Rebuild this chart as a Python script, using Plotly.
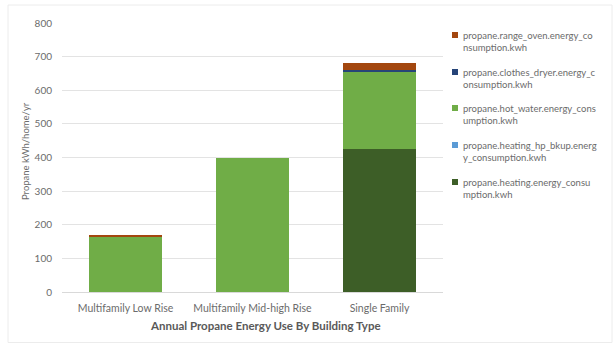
import plotly.graph_objects as go

# Building types on the x axis
categories = ["Multifamily Low Rise", "Multifamily Mid-high Rise", "Single Family"]

# Annual propane end-use (kWh/home/yr), stacked bottom to top
heating = [0, 0, 424]
heating_hp_bkup = [0, 0, 0]
hot_water = [165, 398, 233]
clothes_dryer = [0, 0, 3]
range_oven = [6, 0, 20]

y_ticks = [0, 100, 200, 300, 400, 500, 600, 700, 800]

# (series name, values, colour, character position where the legend label wraps)
series = [
    ("propane.heating.energy_consumption.kwh", heating, "#3d5e27", 28),
    ("propane.heating_hp_bkup.energy_consumption.kwh", heating_hp_bkup, "#5b9bd5", 29),
    ("propane.hot_water.energy_consumption.kwh", hot_water, "#70ad47", 29),
    ("propane.clothes_dryer.energy_consumption.kwh", clothes_dryer, "#264478", 30),
    ("propane.range_oven.energy_consumption.kwh", range_oven, "#a3470f", 28),
]

W, H = 613, 344
L, R, T, B = 62, 170, 23, 52
pw, ph = W - L - R, H - T - B
FONT = "Lato, Carlito, 'Open Sans', sans-serif"
GREY = "#6b6b6b"


def px_x(px):
    return (px - L) / pw


def px_y(py):
    return (H - B - py) / ph


fig = go.Figure()
for name, vals, color, _ in series:
    fig.add_trace(go.Bar(
        x=categories, y=vals, name=name,
        marker=dict(color=color, line=dict(width=0)),
        showlegend=False,
    ))

# Hand-built legend on the right: top-most stack segment listed first
shapes = []
annotations = []
legend_rows = [35, 72, 108, 145, 182]
for (name, vals, color, cut), row in zip(reversed(series), legend_rows):
    shapes.append(dict(
        type="rect", xref="paper", yref="paper",
        x0=px_x(452), x1=px_x(458), y0=px_y(row + 3), y1=px_y(row - 3),
        fillcolor=color, line=dict(width=0),
    ))
    annotations.append(dict(
        xref="paper", yref="paper", x=px_x(461), y=px_y(row - 7),
        xanchor="left", yanchor="top", align="left", showarrow=False,
        text=name[:cut] + "<br>" + name[cut:],
        font=dict(family=FONT, size=9.5, color=GREY),
    ))

# axis titles
annotations.append(dict(
    xref="paper", yref="paper", x=px_x(265), y=px_y(325),
    xanchor="center", yanchor="middle", showarrow=False,
    text="<b>Annual Propane Energy Use By Building Type</b>",
    font=dict(family=FONT, size=11.5, color="#595959"),
))
annotations.append(dict(
    xref="paper", yref="paper", x=px_x(25), y=px_y(151),
    xanchor="center", yanchor="middle", showarrow=False, textangle=-90,
    text="Propane kWh/home/yr",
    font=dict(family=FONT, size=9.5, color=GREY),
))

# faint chart-area frame
shapes.append(dict(
    type="rect", xref="paper", yref="paper",
    x0=px_x(8), x1=px_x(612), y0=px_y(342.5), y1=px_y(5),
    line=dict(color="#ececec", width=1), fillcolor="rgba(0,0,0,0)", layer="below",
))

fig.update_layout(
    width=W, height=H,
    margin=dict(l=L, r=R, t=T, b=B, pad=0),
    barmode="stack", bargap=0.43,
    plot_bgcolor="white", paper_bgcolor="white",
    font=dict(family=FONT, size=10, color=GREY),
    shapes=shapes, annotations=annotations,
    showlegend=False,
)
fig.update_xaxes(
    showgrid=False, showline=True, linecolor="#d9d9d9", linewidth=1,
    ticks="", tickfont=dict(family=FONT, size=10.5, color=GREY),
    ticklabelstandoff=6,
)
fig.update_yaxes(
    range=[0, 800], tickvals=y_ticks, showgrid=True, gridcolor="#e3e3e3",
    gridwidth=1, zeroline=False, ticks="", ticklabelstandoff=9,
    tickfont=dict(family=FONT, size=10, color=GREY),
)

fig.write_html("out.html")
